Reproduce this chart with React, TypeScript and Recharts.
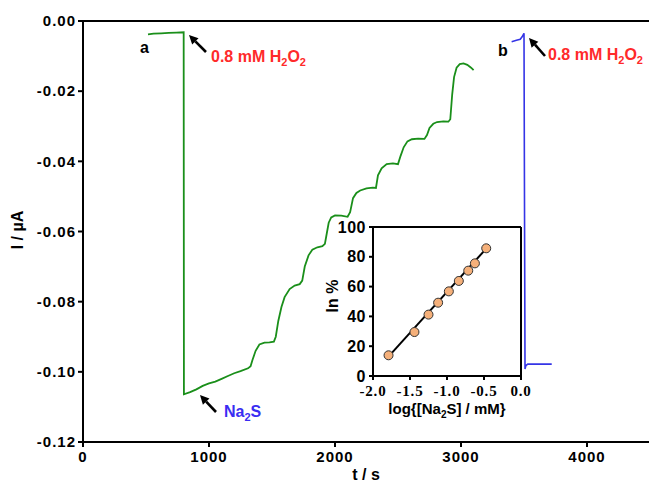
import React from "react";
import { ComposedChart, Line, XAxis, YAxis, ReferenceLine } from "recharts";

// curve a (green): time in s, current in µA
const greenTime = [
  516, 560, 620, 680, 740, 799, 801, 850, 900, 950, 1000, 1050, 1100, 1150, 1200, 1250, 1310,
  1330, 1345, 1370, 1400, 1440, 1480, 1515, 1530, 1550, 1575, 1600, 1640, 1680, 1720, 1740,
  1760, 1790, 1820, 1860, 1900, 1920, 1935, 1950, 1970, 2000, 2050, 2100, 2120, 2143, 2170,
  2200, 2250, 2300, 2325, 2341, 2370, 2410, 2460, 2500, 2520, 2545, 2575, 2610, 2660, 2710,
  2730, 2750, 2780, 2810, 2860, 2900, 2915, 2930, 2945, 2965, 2990, 3020, 3050, 3080, 3100,
];
const greenCurrent = [
  -0.0038, -0.0036, -0.0035, -0.0034, -0.0033, -0.0032, -0.1064, -0.1058, -0.105, -0.104,
  -0.1033, -0.1028, -0.102, -0.1012, -0.1004, -0.0998, -0.099, -0.0984, -0.0966, -0.094,
  -0.0922, -0.0917, -0.0916, -0.0914, -0.09, -0.0855, -0.0815, -0.0787, -0.0764, -0.0754,
  -0.075, -0.074, -0.07, -0.0668, -0.0652, -0.0645, -0.0642, -0.0635, -0.0605, -0.0575,
  -0.056, -0.0554, -0.0555, -0.0558, -0.0545, -0.0505, -0.049, -0.0483, -0.0477, -0.0475,
  -0.0476, -0.044, -0.042, -0.0408, -0.0406, -0.0408, -0.0385, -0.036, -0.0343, -0.0337,
  -0.0335, -0.0336, -0.0325, -0.0305, -0.0293, -0.0288, -0.0286, -0.0287, -0.028, -0.021,
  -0.016, -0.0133, -0.0123, -0.0121, -0.0125, -0.0133, -0.014,
];

// curve b (blue)
const blueTime = [3402, 3440, 3470, 3485, 3500, 3508, 3515, 3530, 3600, 3720];
const blueCurrent = [-0.0059, -0.0055, -0.0052, -0.0045, -0.0035, -0.0992, -0.0982, -0.0978, -0.0978, -0.0978];

const mainXTicks = [0, 1000, 2000, 3000, 4000];
const mainYTicks = [0, -0.02, -0.04, -0.06, -0.08, -0.1, -0.12];

// inset: inhibition vs log concentration
const logConc = [-1.79, -1.44, -1.25, -1.12, -0.975, -0.84, -0.713, -0.623, -0.47];
const inhibition = [13.9, 29.5, 41.2, 49.2, 56.8, 63.8, 70.7, 75.6, 85.7];
const fitLogConc = [-1.8, -0.47];
const fitInhibition = [12.5, 85.5];
const insetXTicks = [-2, -1.5, -1, -0.5, 0];
const insetYTicks = [0, 20, 40, 60, 80, 100];

const greenData = greenTime.map((t, i) => ({ t, a: greenCurrent[i] }));
const blueData = blueTime.map((t, i) => ({ t, b: blueCurrent[i] }));
const pointData = logConc.map((x, i) => ({ x, y: inhibition[i] }));
const fitData = fitLogConc.map((x, i) => ({ x, y: fitInhibition[i] }));

const SANS = "'Liberation Sans', Arial, sans-serif";
const SERIF = "'Liberation Serif', 'Times New Roman', serif";
const axisStroke = { stroke: "#000", strokeWidth: 2 };
const mainTick = { fontSize: 15, fontWeight: 700, fill: "#000", fontFamily: SANS, letterSpacing: 1 };

function Arrow({ x1, y1, x2, y2 }: { x1: number; y1: number; x2: number; y2: number }) {
  const dx = x2 - x1;
  const dy = y2 - y1;
  const len = Math.hypot(dx, dy);
  const ux = dx / len;
  const uy = dy / len;
  const hl = 9;
  const hw = 4.5;
  const bx = x2 - ux * hl;
  const by = y2 - uy * hl;
  return (
    <g>
      <line x1={x1} y1={y1} x2={bx} y2={by} stroke="#000" strokeWidth={2.6} />
      <polygon
        points={`${x2},${y2} ${bx - uy * hw},${by + ux * hw} ${bx + uy * hw},${by - ux * hw}`}
        fill="#000"
      />
    </g>
  );
}

function H2O2({ x, y }: { x: number; y: number }) {
  return (
    <text x={x} y={y} fill="#ff2a2a" fontFamily={SANS} fontWeight={700} fontSize={16}>
      0.8 mM H
      <tspan dy={4} fontSize={11}>2</tspan>
      <tspan dy={-4}>O</tspan>
      <tspan dy={4} fontSize={11}>2</tspan>
    </text>
  );
}

export default function App() {
  return (
    <div style={{ position: "absolute", left: 0, top: 0, width: 649, height: 484, overflow: "hidden", background: "#fff" }}>
      <ComposedChart width={660} height={484} margin={{ top: 21, right: 10, bottom: 0, left: 0 }}>
        <XAxis
          type="number"
          dataKey="t"
          domain={[0, 4500]}
          ticks={mainXTicks}
          height={42}
          tickSize={5}
          tickMargin={4}
          axisLine={axisStroke}
          tickLine={axisStroke}
          tick={mainTick}
          allowDataOverflow
        />
        <YAxis
          type="number"
          domain={[-0.12, 0]}
          ticks={mainYTicks}
          width={83}
          tickSize={5}
          tickMargin={2}
          axisLine={axisStroke}
          tickLine={axisStroke}
          tick={mainTick}
          tickFormatter={(v: number) => v.toFixed(2)}
          allowDataOverflow
        />
        <ReferenceLine y={0} stroke="#000" strokeWidth={2} />
        <Line data={greenData} dataKey="a" type="linear" stroke="#1a8f1a" strokeWidth={1.8} dot={false} isAnimationActive={false} />
        <Line data={blueData} dataKey="b" type="linear" stroke="#3434e6" strokeWidth={1.6} dot={false} isAnimationActive={false} />
      </ComposedChart>

      <div style={{ position: "absolute", left: 320, top: 212 }}>
        <ComposedChart width={215} height={213} margin={{ top: 15, right: 14, bottom: 0, left: 0 }}>
          <XAxis
            type="number"
            dataKey="x"
            domain={[-2, 0]}
            ticks={insetXTicks}
            height={49}
            tickSize={4}
            tickMargin={5}
            axisLine={axisStroke}
            tickLine={axisStroke}
            tick={{ fontSize: 15, fontWeight: 700, fill: "#000", fontFamily: SERIF, letterSpacing: 0.8 }}
            tickFormatter={(v: number) => v.toFixed(1)}
          />
          <YAxis
            type="number"
            domain={[0, 100]}
            ticks={insetYTicks}
            width={53}
            tickSize={4}
            tickMargin={3}
            axisLine={axisStroke}
            tickLine={axisStroke}
            tick={{ fontSize: 16, fontWeight: 700, fill: "#000", fontFamily: SANS, letterSpacing: 0.5 }}
          />
          <ReferenceLine x={0} stroke="#000" strokeWidth={2} />
          <ReferenceLine y={100} stroke="#000" strokeWidth={2} />
          <Line
            data={pointData}
            dataKey="y"
            stroke="none"
            dot={{ r: 4.5, fill: "#f5b07a", stroke: "#333", strokeWidth: 1 }}
            isAnimationActive={false}
          />
          <Line data={fitData} dataKey="y" stroke="#000" strokeWidth={2} dot={false} isAnimationActive={false} />
        </ComposedChart>
      </div>

      <svg width={649} height={484} style={{ position: "absolute", left: 0, top: 0, pointerEvents: "none" }}>
        <text x={19} y={230} transform="rotate(-90 19 230)" textAnchor="middle" dominantBaseline="middle" fontFamily={SANS} fontWeight={700} fontSize={16}>
          I / µA
        </text>
        <text x={366} y={480} textAnchor="middle" fontFamily={SANS} fontWeight={700} fontSize={16}>
          t / s
        </text>

        <text x={140} y={53} fontFamily={SANS} fontWeight={700} fontSize={16}>a</text>
        <Arrow x1={206} y1={52} x2={189} y2={35} />
        <H2O2 x={211} y={62} />

        <text x={498} y={56} fontFamily={SANS} fontWeight={700} fontSize={16}>b</text>
        <Arrow x1={545} y1={56} x2={529} y2={38} />
        <H2O2 x={548} y={60} />

        <Arrow x1={216} y1={412} x2={200} y2={395} />
        <text x={224} y={417} fill="#3a2df2" fontFamily={SANS} fontWeight={700} fontSize={16}>
          Na<tspan dy={4} fontSize={11}>2</tspan><tspan dy={-4}>S</tspan>
        </text>

        <text x={334} y={296} transform="rotate(-90 334 296)" textAnchor="middle" dominantBaseline="middle" fontFamily={SANS} fontWeight={700} fontSize={16}>
          In %
        </text>
        <text x={447} y={414} textAnchor="middle" fontFamily={SANS} fontWeight={700} fontSize={15}>
          log{"{"}[Na<tspan dy={4} fontSize={10}>2</tspan><tspan dy={-4}>S] / mM{"}"}</tspan>
        </text>
      </svg>
    </div>
  );
}
